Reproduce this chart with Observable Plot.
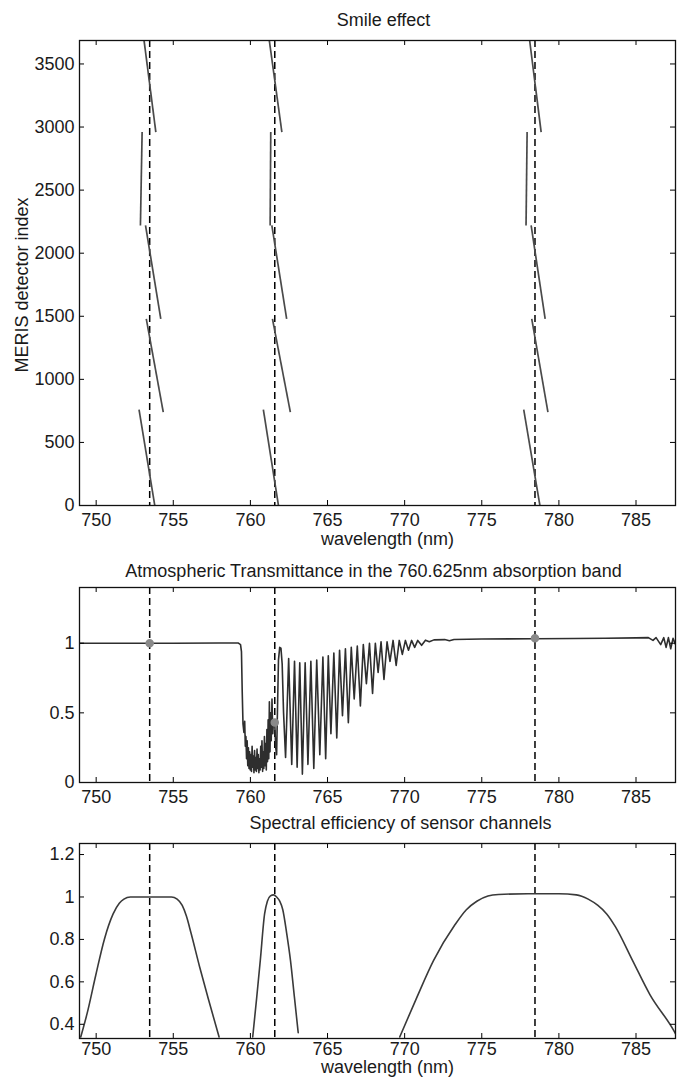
<!DOCTYPE html>
<html><head><meta charset="utf-8">
<script src="https://cdn.jsdelivr.net/npm/d3@7"></script>
<script src="https://cdn.jsdelivr.net/npm/@observablehq/plot@0.6"></script>
<style>
body{margin:0;background:#fff;width:678px;height:1077px;overflow:hidden;position:relative;font-family:"Liberation Sans",Arial,sans-serif}
.panel{position:absolute;left:0}
</style></head><body>
<div id="p1" class="panel" style="top:0;z-index:3"></div>
<div id="p2" class="panel" style="top:545px;z-index:2"></div>
<div id="p3" class="panel" style="top:810px;z-index:1"></div>
<script>
// ---------- shared ----------
const wavelengthTicks = [750, 755, 760, 765, 770, 775, 780, 785];
const channelCenters = [753.47, 761.58, 778.45];

// ---------- panel 1: smile effect ----------
const detectorTicks = [0, 500, 1000, 1500, 2000, 2500, 3000, 3500];
const cameraFirstDetector = [0, 740, 1480, 2220, 2960];
const cameraLastDetector = [760, 1480, 2220, 2960, 3700];
const smileCh1AtFirst = [753.80, 754.35, 754.19, 752.87, 753.87];
const smileCh1AtLast  = [752.78, 753.25, 753.20, 752.98, 753.09];
const smileCh2AtFirst = [761.82, 762.59, 762.35, 761.28, 762.04];
const smileCh2AtLast  = [760.84, 761.43, 761.39, 761.32, 761.21];
const smileCh3AtFirst = [778.77, 779.29, 779.11, 777.87, 778.85];
const smileCh3AtLast  = [777.72, 778.24, 778.20, 777.94, 778.09];

// ---------- panel 2: atmospheric transmittance ----------
const transTicks = [0, 0.5, 1];
const transWavelength = [
  748.9, 752.0, 755.0, 758.0, 759.2, 759.36, 759.42, 759.47, 759.52,
  759.58, 759.63, 759.67, 759.71, 759.75, 759.79, 759.83, 759.87, 759.91, 759.95,
  759.99, 760.03, 760.07, 760.11, 760.15, 760.19, 760.23, 760.27, 760.31, 760.35,
  760.39, 760.43, 760.47, 760.51, 760.55, 760.59, 760.63, 760.67, 760.71, 760.75,
  760.79, 760.83, 760.87, 760.91, 760.95, 760.99, 761.03, 761.07, 761.11, 761.15,
  761.19, 761.23, 761.27, 761.31, 761.35, 761.40, 761.45, 761.50, 761.58, 761.64,
  761.70, 761.76, 761.82, 761.90, 761.98, 762.06, 762.15, 762.28, 762.48, 762.68,
  762.86, 763.03, 763.20, 763.37, 763.55, 763.73, 763.92, 764.11, 764.30, 764.50,
  764.70, 764.88, 765.05, 765.22, 765.41, 765.60, 765.78, 765.97, 766.16, 766.35,
  766.54, 766.73, 766.93, 767.13, 767.32, 767.52, 767.72, 767.92, 768.10, 768.28,
  768.47, 768.66, 768.86, 769.05, 769.25, 769.45, 769.65, 769.85, 770.05, 770.25,
  770.45, 770.65, 770.85, 771.10, 771.35, 771.60, 771.90, 772.60, 772.90, 773.20,
  775.0, 778.45, 781.0, 783.0, 785.0, 785.8, 786.1, 786.3, 786.6, 786.8,
  786.95, 787.1, 787.25, 787.4, 787.6
];
const transValue = [
  1.000, 1.000, 1.000, 1.002, 1.002, 0.990, 0.940, 0.650, 0.420,
  0.360, 0.440, 0.260, 0.330, 0.170, 0.300, 0.120, 0.250, 0.100, 0.220,
  0.090, 0.200, 0.080, 0.260, 0.110, 0.190, 0.070, 0.230, 0.090, 0.180,
  0.080, 0.240, 0.100, 0.200, 0.070, 0.170, 0.090, 0.260, 0.110, 0.300,
  0.080, 0.220, 0.100, 0.330, 0.120, 0.280, 0.090, 0.380, 0.150, 0.450,
  0.170, 0.580, 0.220, 0.500, 0.300, 0.600, 0.350, 0.450, 0.420, 0.250,
  0.200, 0.550, 0.880, 0.970, 0.965, 0.850, 0.500, 0.180, 0.890, 0.130,
  0.870, 0.110, 0.860, 0.060, 0.860, 0.130, 0.870, 0.100, 0.880, 0.200,
  0.900, 0.170, 0.910, 0.350, 0.930, 0.320, 0.950, 0.480, 0.960, 0.430,
  0.970, 0.600, 0.980, 0.550, 0.990, 0.710, 1.000, 0.640, 1.000, 0.790,
  1.010, 0.740, 1.010, 0.870, 1.020, 0.840, 1.020, 0.920, 1.020, 0.950,
  1.020, 0.970, 1.020, 0.985, 1.022, 1.010, 1.024, 1.026, 1.018, 1.027,
  1.030, 1.032, 1.034, 1.036, 1.038, 1.040, 1.020, 1.040, 0.990, 1.040,
  0.970, 1.040, 0.960, 1.035, 0.980
];
const transAtCenters = [1.0, 0.43, 1.035];

// ---------- panel 3: spectral efficiency ----------
const effTicks = [0.4, 0.6, 0.8, 1, 1.2];
const effCh1Wavelength = [749.0, 749.41, 749.97, 750.53, 751.10, 751.50, 751.80, 752.22, 753.50, 754.88, 755.25, 755.58, 755.85, 756.15, 756.71, 757.27, 757.97];
const effCh1Value      = [0.34, 0.45, 0.63, 0.80, 0.92, 0.97, 0.99, 1.00, 1.00, 1.00, 0.99, 0.96, 0.91, 0.83, 0.67, 0.52, 0.34];
const effCh2Wavelength = [760.15, 760.40, 760.64, 760.92, 761.10, 761.30, 761.50, 761.70, 761.90, 762.10, 762.35, 762.60, 762.85, 763.10];
const effCh2Value      = [0.34, 0.52, 0.70, 0.92, 0.98, 1.005, 1.01, 1.00, 0.98, 0.94, 0.83, 0.70, 0.53, 0.36];
const effCh3Wavelength = [769.68, 770.75, 771.87, 773.27, 774.00, 774.68, 775.40, 776.08, 778.00, 780.00, 781.13, 781.90, 782.53, 783.10, 783.66, 784.78, 785.90, 787.45, 787.60];
const effCh3Value      = [0.34, 0.52, 0.70, 0.87, 0.94, 0.98, 1.005, 1.012, 1.015, 1.015, 1.01, 0.99, 0.96, 0.92, 0.86, 0.70, 0.54, 0.37, 0.35];

// ---------- layout helpers ----------
const W = 678, ML = 79, MR = 3, FW = W - ML - MR;
const xDomain = [748.92, 787.56];
const FONT = "Liberation Sans, Arial, sans-serif";
const INK = "#1a1a1a";

function frameMarks(H, yTicks, xPad) {
  const tk = {stroke: "black", strokeWidth: 1};
  return [
    Plot.tickX(wavelengthTicks, {x: d => d, insetTop: H - 5, ...tk}),
    Plot.tickX(wavelengthTicks, {x: d => d, insetBottom: H - 5, ...tk}),
    Plot.tickY(yTicks, {y: d => d, insetRight: FW - 5, ...tk}),
    Plot.tickY(yTicks, {y: d => d, insetLeft: FW - 5, ...tk}),
    Plot.frame({stroke: "#111", strokeWidth: 1.3}),
    Plot.axisY(yTicks, {anchor: "left", tickSize: 0, tickPadding: 5, fontSize: 18, tickFormat: d => String(d), label: null, fill: INK}),
    Plot.axisX(wavelengthTicks, {anchor: "bottom", tickSize: 0, tickPadding: xPad, fontSize: 18, tickFormat: d => String(d), label: null, fill: INK})
  ];
}
function title(t, dx, dy) {
  return Plot.text([t], {text: d => d, frameAnchor: "top", dx, dy, fontSize: 18, lineAnchor: "middle", fill: INK});
}
function xLabel(dx, dy) {
  return Plot.text(["wavelength (nm)"], {text: d => d, frameAnchor: "bottom", dx, dy, fontSize: 18, lineAnchor: "middle", fill: INK});
}
const baseStyle = {fontFamily: FONT, background: "none", overflow: "visible"};

// ---------- panel 1 ----------
const segs = [];
[[smileCh1AtFirst, smileCh1AtLast], [smileCh2AtFirst, smileCh2AtLast], [smileCh3AtFirst, smileCh3AtLast]].forEach(([a, b], c) => {
  for (let i = 0; i < 5; i++) segs.push({ch: c, x1: a[i], y1: cameraFirstDetector[i], x2: b[i], y2: cameraLastDetector[i]});
});
const p1 = Plot.plot({
  width: W, height: 545, marginLeft: ML, marginRight: MR, marginTop: 40, marginBottom: 40,
  style: baseStyle,
  x: {domain: xDomain, label: null},
  y: {domain: [0, 3686], label: null},
  marks: [
    Plot.ruleX(channelCenters, {x: d => d, stroke: "black", strokeWidth: 1.5, strokeDasharray: "7,4"}),
    Plot.link(segs, {x1: "x1", y1: "y1", x2: "x2", y2: "y2", stroke: "#4a4a4a", strokeWidth: 1.7, clip: true}),
    ...frameMarks(465, detectorTicks, 8),
    title("Smile effect", 6, -20),
    xLabel(10, 34),
    Plot.text(["MERIS detector index"], {text: d => d, frameAnchor: "left", textAnchor: "middle", rotate: -90, dx: -57, dy: 12, fontSize: 18, lineAnchor: "middle", fill: INK})
  ]
});
document.getElementById("p1").append(p1);

// ---------- panel 2 ----------
const trans = transWavelength.map((w, i) => ({w, t: transValue[i]}));
const dots = channelCenters.map((w, i) => ({w, t: transAtCenters[i]}));
const p2 = Plot.plot({
  width: W, height: 265, marginLeft: ML, marginRight: MR, marginTop: 42, marginBottom: 28,
  style: baseStyle,
  x: {domain: xDomain, label: null},
  y: {domain: [0, 1.4], label: null},
  marks: [
    Plot.ruleX(channelCenters, {x: d => d, stroke: "black", strokeWidth: 1.5, strokeDasharray: "7,4"}),
    Plot.line(trans, {x: "w", y: "t", stroke: "#2e2e2e", strokeWidth: 1.6, clip: true}),
    Plot.dot(dots, {x: "w", y: "t", r: 3.5, fill: "#8a8a8a", stroke: "#8a8a8a"}),
    ...frameMarks(195, transTicks, 8),
    title("Atmospheric Transmittance in the 760.625nm absorption band", -4, -16)
  ]
});
document.getElementById("p2").append(p2);

// ---------- panel 3 ----------
const eff = [];
[[effCh1Wavelength, effCh1Value], [effCh2Wavelength, effCh2Value], [effCh3Wavelength, effCh3Value]].forEach(([ws, vs], c) => {
  ws.forEach((w, i) => eff.push({ch: c, w, v: vs[i]}));
});
const p3 = Plot.plot({
  width: W, height: 267, marginLeft: ML, marginRight: MR, marginTop: 33, marginBottom: 39,
  style: baseStyle,
  x: {domain: xDomain, label: null},
  y: {domain: [0.333, 1.252], label: null},
  marks: [
    Plot.ruleX(channelCenters, {x: d => d, stroke: "black", strokeWidth: 1.5, strokeDasharray: "7,4"}),
    Plot.line(eff, {x: "w", y: "v", z: "ch", stroke: "#3a3a3a", strokeWidth: 1.6, curve: "monotone-x", clip: true}),
    ...frameMarks(195, effTicks, 4),
    title("Spectral efficiency of sensor channels", 23, -20),
    xLabel(10, 29)
  ]
});
document.getElementById("p3").append(p3);
</script></body></html>
